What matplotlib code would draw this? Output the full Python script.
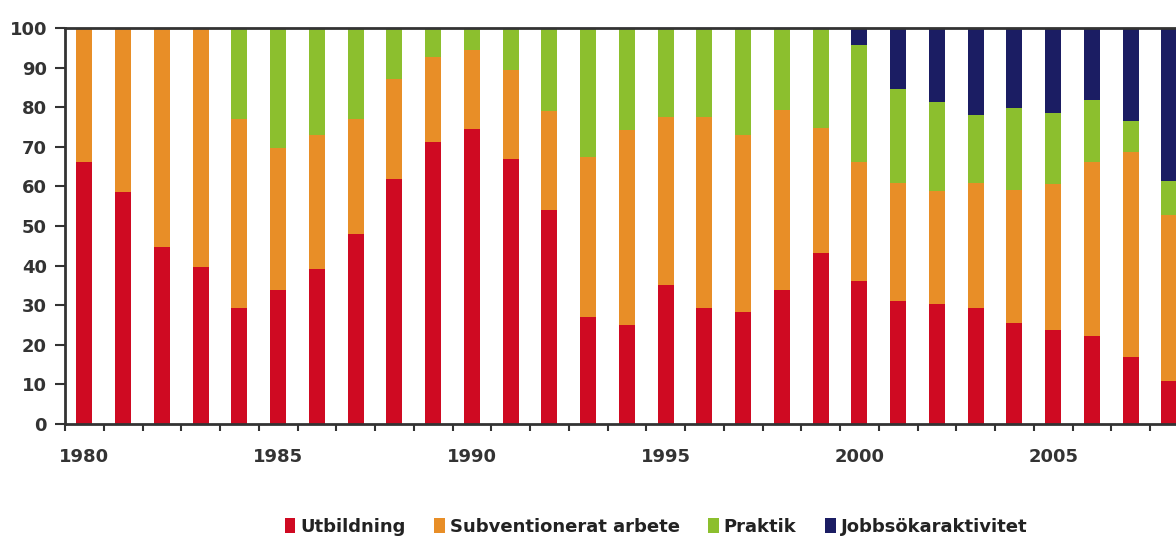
import matplotlib
matplotlib.use("Agg")
import matplotlib.pyplot as plt
import numpy as np

years = list(range(1980, 2009))
utbildning = [66.2, 58.7, 44.7, 39.7, 29.2, 33.9, 39.2, 47.9, 61.8, 71.2,
              74.6, 66.8, 54.0, 27.1, 25.1, 35.2, 29.4, 28.2, 33.9, 43.3,
              36.1, 31.1, 30.4, 29.2, 25.6, 23.7, 22.3, 17.0, 10.9]
subventionerat = [33.8, 41.3, 55.3, 60.3, 47.7, 35.8, 33.7, 29.2, 25.2, 21.5,
                  19.9, 22.7, 25.0, 40.4, 49.1, 42.4, 48.0, 44.7, 45.5, 31.5,
                  30.1, 29.8, 28.4, 31.7, 33.6, 36.8, 43.8, 51.7, 41.9]
praktik = [0, 0, 0, 0, 23.1, 30.3, 27.1, 22.9, 13.0, 7.3,
           5.5, 10.5, 21.0, 32.5, 25.8, 22.4, 22.6, 27.1, 20.6, 25.2,
           29.6, 23.6, 22.5, 17.1, 20.5, 18.1, 15.6, 7.9, 8.5]
jobbsok = [0] * 20 + [4.2, 15.5, 18.7, 22.0, 20.3, 21.4, 18.3, 23.4, 38.7]

series_names = ["Utbildning", "Subventionerat arbete", "Praktik", "Jobbsökaraktivitet"]
colors = ["#cf0a22", "#e88e27", "#8cbf2e", "#1b1d63"]
yticks = list(range(0, 101, 10))
xlabels = [1980, 1985, 1990, 1995, 2000, 2005]

plt.rcParams['font.family'] = ['DejaVu Sans']

W, H = 1176, 538
fig = plt.figure(figsize=(W / 100, H / 100), dpi=100)
step = 38.75
left_px, bottom_px, top_px = 65, 424, 28
ax = fig.add_axes([left_px / W, (H - bottom_px) / H, 29 * step / W, (bottom_px - top_px) / H])

x = np.array(years)
bottom = np.zeros(len(years))
for name, vals, c in zip(series_names, [utbildning, subventionerat, praktik, jobbsok], colors):
    v = np.array(vals, dtype=float)
    ax.bar(x, v, width=0.41, bottom=bottom, color=c, label=name, linewidth=0)
    bottom += v

fs = 13
ax.set_xlim(1979.5, 2008.5)
ax.set_ylim(0, 100)
ax.set_yticks(yticks)
ax.set_yticklabels([str(t) for t in yticks])
ax.set_xticks(xlabels)
ax.set_xticklabels([str(t) for t in xlabels])
ax.set_xticks(np.arange(1979.5, 2009, 1), minor=True)
ax.tick_params(axis='x', which='major', length=0, pad=17, labelsize=fs, labelcolor='#333333')
ax.tick_params(axis='x', which='minor', length=5, width=1.5, direction='out', color='#333333')
ax.tick_params(axis='y', length=7, width=1.5, direction='out', pad=6, labelsize=fs,
               labelcolor='#333333', color='#333333')
for lab in ax.get_xticklabels() + ax.get_yticklabels():
    lab.set_fontweight('bold')

for s in ['left', 'bottom', 'top']:
    ax.spines[s].set_color('#333333')
    ax.spines[s].set_linewidth(2)
ax.spines['right'].set_visible(False)

handles, labels = ax.get_legend_handles_labels()
leg = fig.legend(handles, labels, loc='center', bbox_to_anchor=(656 / W, 1 - 527 / H),
                 ncol=4, frameon=False, handlelength=0.6, handleheight=0.9,
                 handletextpad=0.25, columnspacing=1.6, fontsize=fs)
for t in leg.get_texts():
    t.set_color('#222222')
    t.set_fontweight('bold')

fig.savefig("out.png", dpi=100)
